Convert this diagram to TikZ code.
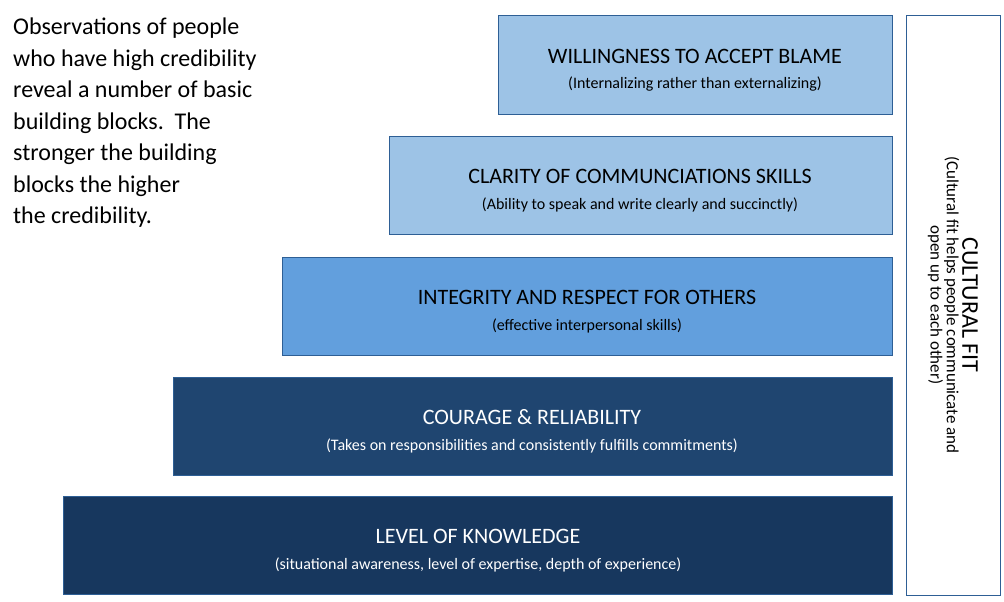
\documentclass[tikz,border=0pt]{standalone}
\usepackage{fontspec}
\setmainfont{Carlito}
\begin{document}
\begin{tikzpicture}[x=1pt,y=-1pt,
  blk/.style={draw=#1!70!black, line width=1pt, fill=#1, anchor=north west, inner sep=0pt},
  ttl/.style={font=\fontsize{22}{26}\selectfont},
  sub/.style={font=\fontsize{16}{19}\selectfont}]
\definecolor{c1}{HTML}{9DC3E6}
\definecolor{c2}{HTML}{9DC3E6}
\definecolor{c3}{HTML}{629FDD}
\definecolor{c4}{HTML}{1F4570}
\definecolor{c5}{HTML}{17375E}
\definecolor{bord}{HTML}{2E5F95}
\useasboundingbox (0,0) rectangle (1004,602);
\fill[white] (0,0) rectangle (1004,602);
\foreach \n/\xa/\ya/\c in {a/498/16/c1,b/389/136/c2,c/282/257/c3,d/173/377/c4,e/63/496/c5}{
  \draw[draw=bord, line width=1pt, fill=\c] (\xa,\ya) rectangle (892,\ya+98);
}
\node[ttl] (ta) at (695,56) {WILLINGNESS TO ACCEPT BLAME};
\node[sub] (sa) at (695,84) {(Internalizing rather than externalizing)};
\node[ttl] (tb) at (640,176) {CLARITY OF COMMUNCIATIONS SKILLS};
\node[sub] (sb) at (640,205) {(Ability to speak and write clearly and succinctly)};
\node[ttl] (tc) at (587,297) {INTEGRITY AND RESPECT FOR OTHERS};
\node[sub] (sc) at (587,326) {(effective interpersonal skills)};
\node[ttl,white] (td) at (532,417) {COURAGE \& RELIABILITY};
\node[sub,white] (sd) at (532,446) {(Takes on responsibilities and consistently fulfills commitments)};
\node[ttl,white] (te) at (478,536) {LEVEL OF KNOWLEDGE};
\node[sub,white] (se) at (478,565) {(situational awareness, level of expertise, depth of experience)};
\draw[draw=bord, line width=1pt] (906,16) rectangle (1000,595);
\node[rotate=-90, align=center] (cf) at (953,305) {{\fontsize{24}{28}\selectfont CULTURAL FIT}\\[2pt]
  {\fontsize{17}{21}\selectfont (Cultural fit helps people communicate and}\\
  {\fontsize{17}{21}\selectfont open up to each other)}};
\node[anchor=north west, align=left, font=\fontsize{24}{31.5}\selectfont, inner sep=0pt] (obs) at (13,18)
 {Observations of people\\who have high credibility\\reveal a number of basic\\building blocks.\ \ The\\stronger the building\\blocks the higher\\the credibility.};
\end{tikzpicture}
\end{document}
